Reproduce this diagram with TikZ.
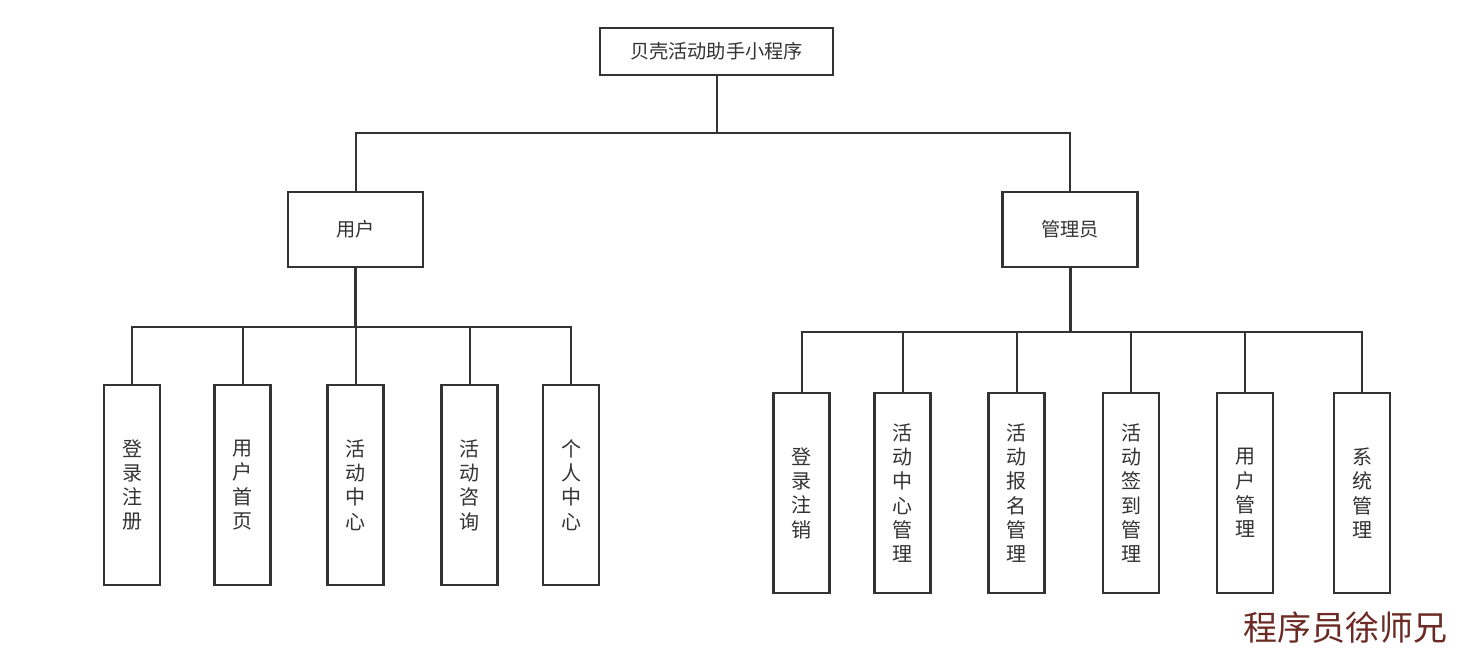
\documentclass[tikz,border=0pt]{standalone}
\usepackage{fontspec}
\newfontfamily\cjk{Noto Sans CJK SC}
\definecolor{ln}{HTML}{333333}
\definecolor{wm}{HTML}{6B2A24}
\begin{document}
\begin{tikzpicture}[x=1pt,y=-1pt,
  box/.style={draw=ln,line width=2.6pt,fill=white,inner sep=0pt,text=ln,font=\cjk\fontsize{19.2}{24}\selectfont,align=center},
  topbox/.style={box,minimum width=233pt,minimum height=47pt},
  midbox/.style={box,minimum width=135pt,minimum height=75pt},
  leaf/.style={box,font=\cjk\fontsize{20}{24.3}\selectfont,minimum width=56pt,minimum height=200pt},
  conn/.style={draw=ln,line width=2pt},
  trunk/.style={draw=ln,line width=3pt}]
\useasboundingbox[fill=white] (0,0) rectangle (1471,670);
\node[topbox] (top) at (716.5,51.5) {贝壳活动助手小程序};
\node[midbox] (user) at (355.5,229.5) {用户};
\node[midbox] (admin) at (1070,229.5) {管理员};
% user leaves
\node[leaf] (u1) at (132,485) {登\\录\\注\\册};
\node[leaf] (u2) at (242.5,485) {用\\户\\首\\页};
\node[leaf] (u3) at (355.5,485) {活\\动\\中\\心};
\node[leaf] (u4) at (469.5,485) {活\\动\\咨\\询};
\node[leaf] (u5) at (571,485) {个\\人\\中\\心};
% admin leaves
\node[leaf] (a1) at (801.5,493) {登\\录\\注\\销};
\node[leaf] (a2) at (902.5,493) {活\\动\\中\\心\\管\\理};
\node[leaf] (a3) at (1016.5,493) {活\\动\\报\\名\\管\\理};
\node[leaf] (a4) at (1131,493) {活\\动\\签\\到\\管\\理};
\node[leaf] (a5) at (1245,493) {用\\户\\管\\理};
\node[leaf] (a6) at (1362,493) {系\\统\\管\\理};
% buses
\coordinate (b0) at (716.5,133);
\coordinate (bu) at (355.5,326.5);
\coordinate (ba) at (1070,331.5);
\draw[conn] (top.south) -- (b0);
\draw[conn] (user.north) |- (b0) -| (admin.north);
\draw[trunk] (user.south) -- (bu);
\draw[trunk] (admin.south) -- (ba);
\foreach \n in {u1,u2,u3,u4,u5} \draw[conn] (bu) -| (\n.north);
\foreach \n in {a1,a2,a3,a4,a5,a6} \draw[conn] (ba) -| (\n.north);
\node[text=wm,font=\cjk\fontsize{34}{34}\selectfont,inner sep=0pt] (wmark) at (1345.5,628) {程序员徐师兄};
\end{tikzpicture}
\end{document}
